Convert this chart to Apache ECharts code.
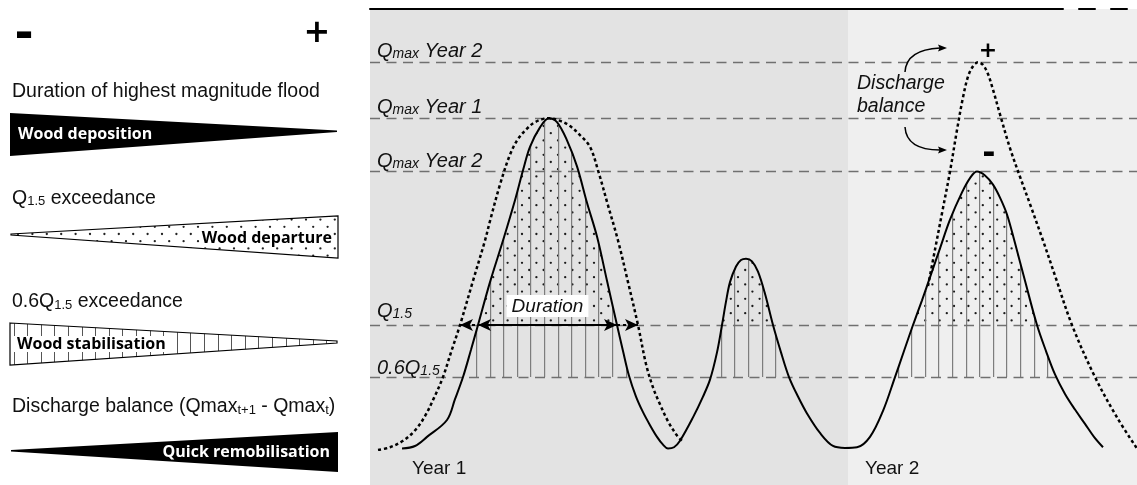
<!DOCTYPE html>
<html>
<head>
<meta charset="utf-8">
<title>Flood hydrographs and wood dynamics</title>
<script src="https://cdn.jsdelivr.net/npm/echarts@6.0.0/dist/echarts.min.js"></script>
<style>
html, body { margin: 0; padding: 0; background: #fff; }
#chart { width: 1137px; height: 485px; }
</style>
</head>
<body>
<div id="chart"></div>
<script>
// discharge levels, in units where Q1.5 = 100
var qmaxYear2Alt = 302;   // peak of the dotted hydrograph, year 2
var qmaxYear1 = 259;
var qmaxYear2 = 218;      // peak of the solid hydrograph, year 2
var q15 = 100;
var q06 = 60;
var qMin = -23, qMax = 343;

// time, arbitrary units
var yearStart = [0, 478];
var yearEnd = [478, 767];
var yearNames = ['Year 1', 'Year 2'];

// solid hydrograph [time, discharge]
var flowSolid = [
  [32, 5], [45, 7], [57, 14], [77, 27], [85, 43], [93, 60], [101, 81], [108, 100],
  [120, 133], [133, 165], [145, 196], [153, 219], [160, 237], [170, 252], [179, 259],
  [187, 256], [197, 242], [207, 222], [217, 194], [227, 168], [237, 134], [247, 100],
  [253, 80], [259, 61], [266, 45], [273, 33], [280, 23], [287, 14], [293, 8], [298, 5],
  [304, 6], [310, 11], [323, 29], [333, 45], [340, 58], [347, 79], [352, 100], [356, 118],
  [360, 133], [366, 145], [371, 150], [376, 151], [382, 149], [388, 141], [395, 124],
  [403, 100], [411, 79], [419, 60], [428, 45], [437, 32], [450, 17], [463, 7], [475, 5.5],
  [487, 6], [500, 14], [513, 34], [525, 60], [534, 80], [543, 100], [552, 119], [561, 139],
  [570, 159], [580, 181], [592, 202], [600, 213], [607, 218], [615, 215], [623, 208],
  [630, 198], [637, 185], [645, 163], [655, 134], [667, 100], [676, 80], [685, 62],
  [695, 47], [705, 35], [715, 24], [724, 14], [733, 6]
];
// dotted hydrograph (other scenario)
var flowDottedYear1 = [
  [8, 4], [20, 6], [33, 11], [45, 19], [55, 30], [64, 44], [73, 60], [81, 79], [90, 100],
  [103, 134], [115, 165], [120, 180], [130, 208], [140, 231], [148, 243], [157, 251],
  [165, 256], [178, 259], [190, 257], [200, 253], [210, 246], [220, 237], [228, 219],
  [238, 192], [248, 165], [258, 133], [268, 100], [276, 70], [283, 52], [290, 39],
  [298, 26], [307, 15], [312, 11]
];
var flowDottedYear2 = [
  [558, 130], [565, 158], [572, 186], [580, 218], [587, 250], [593, 275], [598, 291],
  [603, 299], [608, 302], [613, 300], [618, 293], [623, 281], [630, 262], [640, 236],
  [650, 214], [660, 193], [673, 165], [685, 138], [702, 100], [725, 60], [747, 29], [767, 5]
];

// time spent above Q1.5 [start, end]
var durationSolid = [108, 247];
var durationDotted = [90, 268];

var yearBg = ['#e3e3e3', '#efefef'];
var ink = '#111';
var years = yearStart.map(function (s, i) { return [s, yearEnd[i], yearNames[i]]; });

function dotPattern(color) {
  var c = document.createElement('canvas');
  c.width = 72; c.height = 72;
  var g = c.getContext('2d');
  g.fillStyle = color;
  for (var r = 0; r < 10; r++) {
    for (var k = 0; k < 5; k++) {
      g.beginPath();
      g.arc(k * 14.4 + (r % 2) * 7.2 + 3.6, r * 7.2 + 3.6, 1.15, 0, Math.PI * 2);
      g.fill();
    }
  }
  return {image: c, repeat: 'repeat'};
}
function stripePattern(color, w) {
  var c = document.createElement('canvas');
  c.width = 68; c.height = 4;
  var g = c.getContext('2d');
  g.fillStyle = color;
  [0, 14, 27, 41, 54].forEach(function (x) { g.fillRect(x, 0, w, 4); });
  return {image: c, repeat: 'repeat'};
}

// band per year, from a discharge level down to the bottom
function bandItem(level) {
  return function (params, api) {
    var p0 = api.coord([api.value(0), level]);
    var p1 = api.coord([api.value(1), qMin]);
    return {
      type: 'rect',
      shape: {x: p0[0], y: p0[1], width: p1[0] - p0[0], height: p1[1] - p0[1]},
      style: {fill: yearBg[params.dataIndex]}
    };
  };
}

var qRich = {
  q: {fontFamily: 'Liberation Sans', fontStyle: 'italic', fontSize: 20, lineHeight: 22, verticalAlign: 'bottom', color: ink},
  s: {fontFamily: 'Liberation Sans', fontStyle: 'italic', fontSize: 14, lineHeight: 12, verticalAlign: 'bottom', color: ink}
};
var leftRich = {
  a: {fontFamily: 'Liberation Sans', fontSize: 19.5, lineHeight: 20, verticalAlign: 'bottom', color: ink},
  b: {fontFamily: 'Liberation Sans', fontSize: 13, lineHeight: 8, verticalAlign: 'bottom', color: ink}
};
var plainFont = '19.5px "Liberation Sans"';
var wedgeFont = 'bold 16px "Open Sans"';

function txt(x, y, text, font, more) {
  var st = {text: text, x: x, y: y, font: font, fill: ink, align: 'left', verticalAlign: 'middle'};
  for (var k in (more || {})) st[k] = more[k];
  return {type: 'text', z: 20, silent: true, style: st};
}
function poly(points, style) {
  return {type: 'polygon', z: 20, silent: true, shape: {points: points}, style: style};
}

var chart = echarts.init(document.getElementById('chart'));

var option = {
  animation: false,
  grid: {left: 370, right: 0, top: 9, bottom: 0},
  xAxis: {
    type: 'value', min: 0, max: 767, position: 'top', z: 50,
    axisLine: {show: true, onZero: false, lineStyle: {color: '#000', width: 2, type: [693, 16, 16, 16, 16, 40]}},
    axisTick: {show: false}, axisLabel: {show: false}, splitLine: {show: false}
  },
  yAxis: {type: 'value', min: qMin, max: qMax, show: false},
  series: [
    {type: 'custom', z: 0, silent: true, data: years, renderItem: bandItem(qMax)},
    {
      type: 'line', z: 1, silent: true, data: flowSolid, smooth: 0.35, symbol: 'none',
      lineStyle: {opacity: 0}, areaStyle: {color: dotPattern('#1a1a1a'), opacity: 1}
    },
    {type: 'custom', z: 2, silent: true, data: years, renderItem: bandItem(q15)},
    {
      type: 'line', z: 3, silent: true, data: flowSolid, smooth: 0.35, symbol: 'none',
      lineStyle: {opacity: 0}, areaStyle: {color: stripePattern('#7d7d7d', 1.2), opacity: 1}
    },
    {type: 'custom', z: 4, silent: true, data: years, renderItem: bandItem(q06)},
    {
      type: 'line', z: 10, silent: true, data: flowDottedYear1, smooth: 0.35, symbol: 'none',
      lineStyle: {color: '#000', width: 2.5, type: [3.2, 2.8]},
      markLine: {
        z: 5, silent: true, symbol: 'none', animation: false,
        lineStyle: {color: '#707070', width: 1.3, type: [10, 6.5]},
        label: {show: true, position: 'insideStartTop', rich: qRich},
        emphasis: {disabled: true},
        data: [
          {yAxis: qmaxYear2Alt, label: {formatter: '{q|Q}{s|max}{q| Year 2}', distance: [7, 1]}},
          {yAxis: qmaxYear1, label: {formatter: '{q|Q}{s|max}{q| Year 1}', distance: [7, 1]}},
          {yAxis: qmaxYear2, label: {formatter: '{q|Q}{s|max}{q| Year 2}', distance: [7, 0]}},
          {yAxis: q15, label: {formatter: '{q|Q}{s|1.5}', distance: [7, 4]}},
          {yAxis: q06, label: {formatter: '{q|0.6Q}{s|1.5}', distance: [7, -1]}}
        ]
      }
    },
    {
      type: 'line', z: 10, silent: true, data: flowDottedYear2, smooth: 0.35, symbol: 'none',
      lineStyle: {color: '#000', width: 2.5, type: [3.2, 2.8]}
    },
    {
      type: 'line', z: 10, silent: true, data: flowSolid, smooth: 0.35, symbol: 'none',
      lineStyle: {color: '#000', width: 2},
      markLine: {
        z: 11, silent: true, animation: false,
        symbol: ['arrow', 'arrow'], symbolSize: [9, 13],
        lineStyle: {color: '#000', width: 2, type: 'solid'},
        label: {show: false},
        emphasis: {disabled: true},
        data: [
          [{coord: [durationSolid[0], q15], label: {
              show: true, position: 'insideMiddleTop', formatter: 'Duration', distance: 8,
              fontFamily: 'Liberation Sans', fontStyle: 'italic', fontSize: 19, color: ink,
              backgroundColor: '#fff', padding: [2, 5, 1, 5]}},
           {coord: [durationSolid[1], q15]}],
          [{coord: [durationDotted[0], q15], symbol: 'arrow', lineStyle: {type: [3, 3]}},
           {coord: [durationSolid[0], q15], symbol: 'none'}],
          [{coord: [durationSolid[1], q15], symbol: 'none', lineStyle: {type: [3, 3]}},
           {coord: [durationDotted[1], q15], symbol: 'arrow'}]
        ]
      }
    }
  ],
  graphic: [
    // left panel: gradient wedges
    txt(24, 36, '-', 'bold 46px "DejaVu Sans"', {fill: '#000', align: 'center'}),
    txt(317, 34, '+', 'bold 32px "DejaVu Sans"', {fill: '#000', align: 'center'}),

    txt(12, 91.7, 'Duration of highest magnitude flood', plainFont),
    poly([[10, 113], [337, 130.5], [337, 132], [10, 156]], {fill: '#000'}),
    txt(18, 134, 'Wood deposition', wedgeFont, {fill: '#fff'}),

    txt(12, 198.4, '{a|Q}{b|1.5}{a| exceedance}', plainFont, {rich: leftRich}),
    poly([[11, 234], [338, 216], [338, 258], [11, 235]], {fill: dotPattern('#222'), stroke: '#000', lineWidth: 1.2}),
    txt(333, 238, 'Wood departure', wedgeFont, {fill: '#000', align: 'right', backgroundColor: '#fff', padding: [0, 1, 0, 1]}),

    txt(12, 301.7, '{a|0.6Q}{b|1.5}{a| exceedance}', plainFont, {rich: leftRich}),
    poly([[10, 323], [337, 341], [337, 343], [10, 365]], {fill: stripePattern('#555', 1), stroke: '#000', lineWidth: 1.2}),
    txt(11, 344, 'Wood stabilisation', wedgeFont, {fill: '#000', backgroundColor: '#fff', padding: [0, 4, 0, 6]}),

    txt(12, 406.7, '{a|Discharge balance (Qmax}{b|t+1}{a| - Qmax}{b|t}{a|)}', plainFont, {rich: leftRich}),
    poly([[11, 450], [338, 432], [338, 472], [11, 451.5]], {fill: '#000'}),
    txt(330, 452, 'Quick remobilisation', wedgeFont, {fill: '#fff', align: 'right'}),

    // right panel annotations
    txt(412, 468.7, 'Year 1', '19px "Liberation Sans"'),
    txt(865, 468.7, 'Year 2', '19px "Liberation Sans"'),
    txt(857, 83.4, 'Discharge', 'italic 19.5px "Liberation Sans"'),
    txt(857, 106.7, 'balance', 'italic 19.5px "Liberation Sans"'),
    txt(988, 51.5, '+', 'bold 22px "DejaVu Sans"', {fill: '#000', align: 'center'}),
    txt(989, 155, '-', 'bold 32px "DejaVu Sans"', {fill: '#000', align: 'center'}),
    {type: 'bezierCurve', z: 20, silent: true,
     shape: {x1: 905, y1: 72, cpx1: 906, cpy1: 56, cpx2: 918, cpy2: 49, x2: 940, y2: 48},
     style: {stroke: '#000', lineWidth: 1.5, fill: null}},
    poly([[947, 48], [938, 44.5], [939.5, 48], [938, 51.5]], {fill: '#000'}),
    {type: 'bezierCurve', z: 20, silent: true,
     shape: {x1: 905, y1: 127, cpx1: 906, cpy1: 143, cpx2: 918, cpy2: 150, x2: 940, y2: 150},
     style: {stroke: '#000', lineWidth: 1.5, fill: null}},
    poly([[947, 150], [938, 146.5], [939.5, 150], [938, 153.5]], {fill: '#000'})
  ]
};

chart.setOption(option);
</script>
</body>
</html>
